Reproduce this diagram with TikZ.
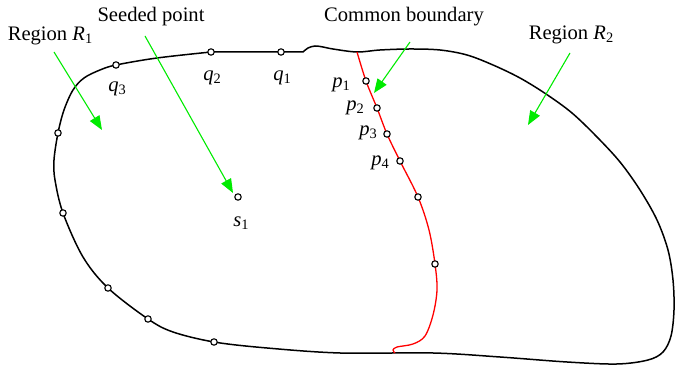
\documentclass[tikz,border=0pt]{standalone}
\usepackage{fontspec}
\setmainfont{Liberation Serif}
\usetikzlibrary{arrows.meta}
\definecolor{grn}{RGB}{0,235,0}
\newcommand\mlab[2]{\textit{#1}\raisebox{-0.3ex}{\fontsize{7.2}{8}\selectfont #2}}
\begin{document}
\begin{tikzpicture}[x=0.5pt,y=-0.5pt,
  pt/.style={circle,draw=black,fill=white,line width=0.55pt,inner sep=0pt,minimum size=3.2pt},
  lbl/.style={font=\fontsize{10.3}{12}\selectfont,inner sep=0pt,anchor=base},
  garrow/.style={draw=grn,line width=0.55pt,-{Triangle[length=7pt,width=5.5pt,fill=grn]}},
  bound/.style={line width=0.75pt,line join=round},
  cbound/.style={draw=red,line width=0.65pt}]
\useasboundingbox (0,0) rectangle (675,367);
% outer boundary
\draw[bound] (211,52) -- (281,52) -- (303,52)
  plot[smooth,tension=0.55] coordinates {(303,52) (308,48) (315,46) (323,47) (333,49) (357,52) (380,50) (410,49) (440,50) (467,55) (493,65) (520,78) (546,94) (572,113) (597,137) (620,162) (640,190) (657,220) (668,250) (673,280) (674,310) (671,336) (663,352) (648,360) (617,364) (567,362) (500,357) (433,353) (340,353) (267,348) (214,342) (173,332) (148,319) (108,288) (83,257) (63,213) (55,180) (54,160) (58,133) (64,110) (73,90) (84,78) (100,70) (116,65) (157,58) (211,52)};
% common boundary
\draw[cbound] plot[smooth,tension=0.55] coordinates {(357,52) (366,81) (377,108) (387,134) (400,161) (418,197) (429,230) (435,264) (437,290) (433,315) (425,336) (413,344) (397,347) (393,350) (395,353)};
% points
\node[pt] (b1) at (58,133) {};
\node[pt] (b2) at (63,213) {};
\node[pt] (b3) at (108,288) {};
\node[pt] (b4) at (148,319) {};
\node[pt] (b5) at (214,342) {};
\node[pt] (q3) at (116,65) {};
\node[pt] (q2) at (211,52) {};
\node[pt] (q1) at (281,52) {};
\node[pt] (p1) at (366,81) {};
\node[pt] (p2) at (377,108) {};
\node[pt] (p3) at (387,134) {};
\node[pt] (p4) at (400,161) {};
\node[pt] (p5) at (418,197) {};
\node[pt] (p6) at (435,264) {};
\node[pt] (s1) at (238,197) {};
% labels
\node[lbl] (lq3) at (117,92) {\mlab{q}{3}};
\node[lbl] (lq2) at (212,81) {\mlab{q}{2}};
\node[lbl] (lq1) at (282,81) {\mlab{q}{1}};
\node[lbl] (lp1) at (341,88) {\mlab{p}{1}};
\node[lbl] (lp2) at (355,111) {\mlab{p}{2}};
\node[lbl] (lp3) at (368,136) {\mlab{p}{3}};
\node[lbl] (lp4) at (380,166) {\mlab{p}{4}};
\node[lbl] (ls1) at (241,227) {\mlab{s}{1}};
\node[lbl] (tR1) at (50,41) {Region \mlab{R}{1}};
\node[lbl] (tSP) at (151,22) {Seeded point};
\node[lbl] (tCB) at (404,22) {Common boundary};
\node[lbl] (tR2) at (571,40) {Region \mlab{R}{2}};
% arrows
\coordinate (a1s) at (54,52);  \coordinate (a1e) at (102,130);
\coordinate (a2s) at (145,36); \coordinate (a2e) at (233,193);
\coordinate (a3s) at (410,42); \coordinate (a3e) at (374,93);
\coordinate (a4s) at (570,53); \coordinate (a4e) at (528,125);
\draw[garrow] (a1s) -- (a1e);
\draw[garrow] (a2s) -- (a2e);
\draw[garrow] (a3s) -- (a3e);
\draw[garrow] (a4s) -- (a4e);
\end{tikzpicture}
\end{document}
